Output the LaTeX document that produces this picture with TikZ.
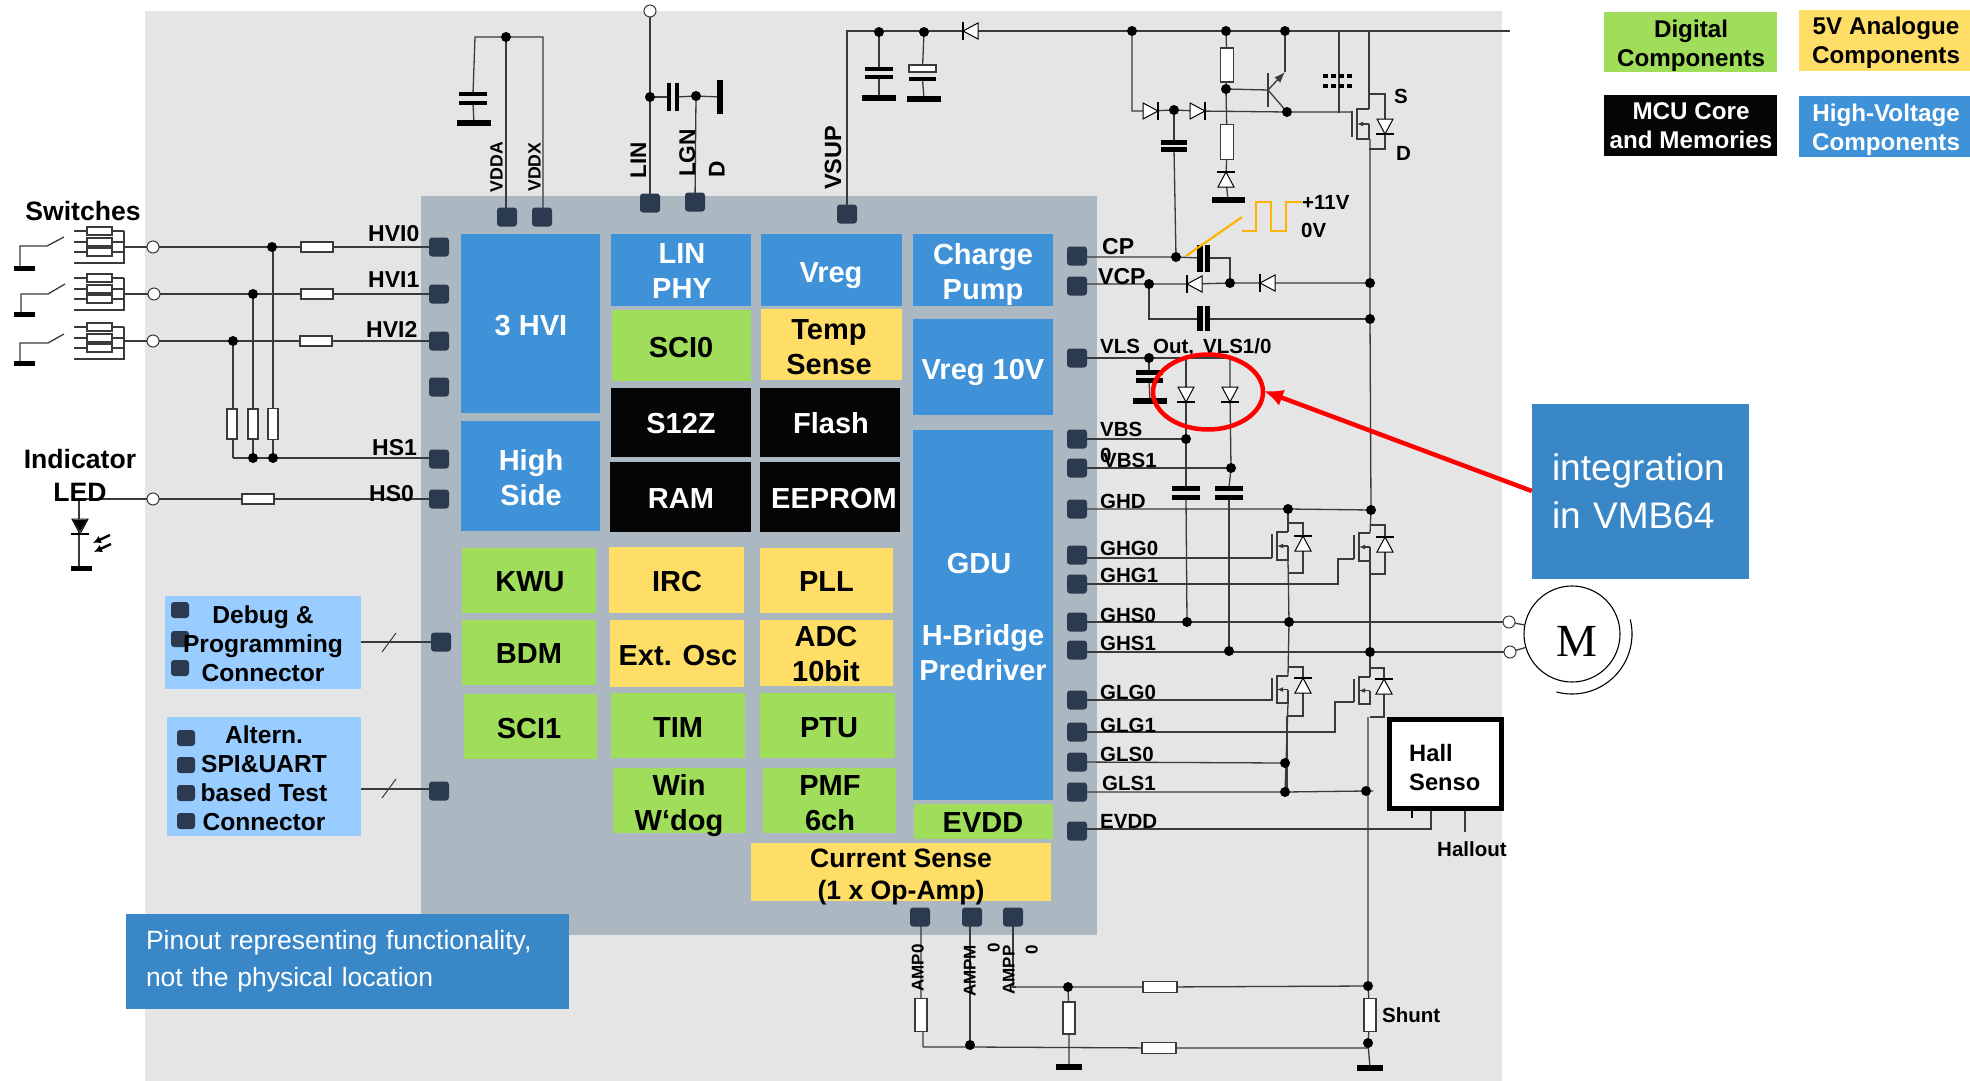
\documentclass[tikz,border=0pt]{standalone}
\usepackage{fontspec}
\setmainfont{Liberation Sans}
\newfontfamily\motorfont{Liberation Serif}
\usetikzlibrary{arrows.meta,shapes.geometric,calc}
\definecolor{cbg}{HTML}{E5E5E5}
\definecolor{cchip}{HTML}{ABB7C1}
\definecolor{cgreen}{HTML}{9FDD5B}
\definecolor{cyellow}{HTML}{FFDE68}
\definecolor{cblue}{HTML}{3F92D8}
\definecolor{cblack}{HTML}{050505}
\definecolor{cpin}{HTML}{2C3A4F}
\definecolor{clight}{HTML}{99CCFF}
\definecolor{ccall}{HTML}{3A87C8}
\definecolor{cwire}{HTML}{3A3A3A}
\definecolor{cwave}{HTML}{FFB300}
\pgfdeclarelayer{base}
\pgfdeclarelayer{wires}
\pgfsetlayers{base,wires,main}
\tikzset{
  pinbox/.style={fill=cpin,draw=none,rounded corners=3pt,minimum width=20pt,minimum height=19pt,inner sep=0pt},
  minipin/.style={fill=cpin,draw=none,rounded corners=3pt,minimum width=18pt,minimum height=16pt,inner sep=0pt},
  jdot/.style={circle,fill=black,draw=none,minimum size=10pt,inner sep=0pt},
  term/.style={circle,fill=white,draw=cwire,line width=1pt,minimum size=12pt,inner sep=0pt},
  resbox/.style={rectangle,fill=white,draw=cwire,line width=1.2pt,inner sep=0pt},
  plate/.style={rectangle,fill=black,draw=none,inner sep=0pt},
  wire/.style={draw=cwire,line width=1.3pt,line join=miter},
  blockbox/.style={rectangle,draw=none,inner sep=0pt},
  tb/.style={font=\bfseries\fontsize{29}{35}\selectfont,align=center,inner sep=0pt},
  one/.style={text height=21pt,text depth=0pt},
  pl/.style={font=\bfseries\fontsize{20.5}{24}\selectfont,inner sep=0pt,text height=15pt,text depth=0pt,anchor=west},
  ph/.style={font=\bfseries\fontsize{23}{27}\selectfont,inner sep=0pt,text height=16.5pt,text depth=0pt,anchor=west},
  rl/.style={font=\bfseries\fontsize{#1}{#1}\selectfont,inner sep=0pt,rotate=90,text height=.72em,text depth=0pt},
  leg/.style={font=\bfseries\fontsize{24.2}{29}\selectfont,align=center,inner sep=0pt},
  con/.style={font=\bfseries\fontsize{24.6}{29}\selectfont,align=center,inner sep=0pt},
  head/.style={font=\bfseries\fontsize{26.6}{32}\selectfont,align=center,inner sep=0pt},
}
\newcommand{\Blk}[6]{\node[blockbox,fill=#6,minimum width={(#4-#2)*1pt},minimum height={(#5-#3)*1pt}] (#1) at ({(#2+#4)/2},{(#3+#5)/2}) {};}
\newcommand{\Pn}[3]{\node[pinbox] (#1) at (#2,#3) {};}
\newcommand{\Jn}[3]{\node[jdot] (#1) at (#2,#3) {};}
\newcommand{\Tm}[3]{\node[term] (#1) at (#2,#3) {};}
\newcommand{\Rs}[5]{\node[resbox,minimum width=#4pt,minimum height=#5pt] (#1) at (#2,#3) {};}
\newcommand{\Pl}[5]{\node[plate,minimum width=#4pt,minimum height=#5pt] (#1) at (#2,#3) {};}
\newcommand{\Dio}[4]{\coordinate (#1) at (#2,#3);
  \begin{scope}[shift={(#2,#3)},rotate=#4]
    \draw[fill=white,draw=black,line width=1pt,line join=miter] (-7,-8) -- (-7,8) -- (8,0) -- cycle;
    \draw[black,line width=1.2pt] (8,-9) -- (8,9);
  \end{scope}}
\newcommand{\Chan}[5]{
  \draw[wire] (#5,{#2+2}) -- (#5,{#3-2});
  \draw[wire] (#1,#2) -- (#4,#2) -- (#4,#3) -- (#1,#3) -- (#1,{(#2+#3)/2});
  \draw[wire,-{Latex[length=6pt,width=5pt]}] (#1,{(#2+#3)/2}) -- (#4,{(#2+#3)/2});}
\newcommand{\Body}[7]{
  \draw[wire] (#2,#4) -- (#3,#4) -- (#3,#5) -- (#2,#5);
  \Dio{#1}{#3}{#6}{#7}}
\newcommand{\Rgrp}[5]{
  \Rs{#1a}{99.5}{#2}{25}{8}\Rs{#1b}{99.5}{#3}{25}{8}\Rs{#1c}{99.5}{#4}{25}{8}
  \coordinate (#1n) at (124,#2);\coordinate (#1s) at (124,#5);
  \begin{pgfonlayer}{wires}
    \draw[wire] (#1n) -- (#1s) -- (74,#5);
    \draw[wire] (74,#2) -- (#1n);\draw[wire] (74,#3) -- (124,#3);\draw[wire] (74,#4) -- (124,#4);
  \end{pgfonlayer}}
\begin{document}
\begin{tikzpicture}[x=1pt,y=-1pt]
\useasboundingbox (0,0) rectangle (1970,1081);
\begin{pgfonlayer}{base}
\Blk{bg}{145}{11}{1502}{1081}{cbg}
\Blk{chip}{421}{196}{1097}{935}{cchip}
\Blk{bHVI}{461}{234}{600}{413}{cblue}
\Blk{bHS}{461}{421}{600}{531}{cblue}
\Blk{bLIN}{611}{234}{751}{306}{cblue}
\Blk{bVreg}{761}{234}{902}{306}{cblue}
\Blk{bCP}{913}{234}{1053}{306}{cblue}
\Blk{bSCI0}{612}{310}{751}{381}{cgreen}
\Blk{bTemp}{761}{309}{902}{380}{cyellow}
\Blk{bV10}{913}{319}{1053}{415}{cblue}
\Blk{bS12}{611}{388}{751}{457}{cblack}
\Blk{bFlash}{760}{388}{900}{457}{cblack}
\Blk{bRAM}{610}{462}{751}{532}{cblack}
\Blk{bEE}{760}{462}{900}{532}{cblack}
\Blk{bGDU}{913}{430}{1053}{800}{cblue}
\Blk{bKWU}{462}{548}{596}{613}{cgreen}
\Blk{bIRC}{609}{547}{744}{613}{cyellow}
\Blk{bPLL}{760}{548}{893}{613}{cyellow}
\Blk{bBDM}{462}{620}{596}{685}{cgreen}
\Blk{bOsc}{610}{620}{744}{687}{cyellow}
\Blk{bADC}{760}{620}{893}{686}{cyellow}
\Blk{bSCI1}{464}{694}{597}{759}{cgreen}
\Blk{bTIM}{611}{693}{745}{758}{cgreen}
\Blk{bPTU}{760}{693}{895}{758}{cgreen}
\Blk{bWin}{613}{768}{746}{833}{cgreen}
\Blk{bPMF}{763}{768}{896}{833}{cgreen}
\Blk{bEVDD}{914}{804}{1053}{839}{cgreen}
\Blk{bCS}{751}{843}{1051}{901}{cyellow}
\Blk{bDbg}{165}{596}{361}{689}{clight}
\Blk{bAlt}{167}{717}{361}{836}{clight}
\Blk{lgD}{1604}{12}{1777}{72}{cgreen}
\Blk{lg5}{1799}{10}{1970}{71}{cyellow}
\Blk{lgM}{1604}{95}{1777}{156}{cblack}
\Blk{lgH}{1799}{96}{1970}{157}{cblue}
\end{pgfonlayer}
% pins
\Pn{pHVI0}{439}{247}\Pn{pHVI1}{439}{294}\Pn{pHVI2}{439}{341}\Pn{pNC}{439}{387}\Pn{pHS1}{439}{459}\Pn{pHS0}{439}{499}
\Pn{pDBG}{441}{642}\Pn{pTST}{439}{791}
\Pn{pVDDA}{507}{217}\Pn{pVDDX}{542}{217}\Pn{pLIN}{650}{203}\Pn{pLGND}{695}{202}\Pn{pVSUP}{847}{214}
\Pn{pAMP0}{920}{917}\Pn{pAMPM}{972}{917}\Pn{pAMPP}{1013}{917}
\Pn{pCP}{1077}{256}\Pn{pVCP}{1077}{286}\Pn{pVLS}{1077}{358}\Pn{pVBS}{1077}{439}\Pn{pVBSa}{1077}{468}
\Pn{pGHD}{1077}{509}\Pn{pGHGa}{1077}{555}\Pn{pGHGb}{1077}{584}\Pn{pGHSa}{1077}{622}\Pn{pGHSb}{1077}{650}
\Pn{pGLGa}{1077}{700}\Pn{pGLGb}{1077}{732}\Pn{pGLSa}{1077}{762}\Pn{pGLSb}{1077}{792}\Pn{pEVDD}{1077}{831}
\node[minipin] (q1) at (180,610) {};\node[minipin] (q2) at (180,639) {};\node[minipin] (q3) at (180,668) {};
\node[minipin] (q4) at (186,738) {};\node[minipin] (q5) at (186,765) {};\node[minipin] (q6) at (186,793) {};\node[minipin] (q7) at (186,821) {};
% left side
\Tm{t0}{153}{247}\Tm{t1}{154}{294}\Tm{t2}{153}{341}\Tm{t3}{153}{499}
\Jn{j0}{272}{247}\Jn{j1}{253}{294}\Jn{j2}{233}{341}\Jn{j3}{273}{458}\Jn{j4}{253}{458}
\coordinate (c5) at (233,458);
\Rs{r0}{317}{247}{32}{10}\Rs{r1}{317}{294}{32}{10}\Rs{r2}{316}{341}{32}{10}\Rs{r3}{258}{499}{32}{10}
\Rs{r4}{273}{424}{10}{31}\Rs{r5}{253}{424}{10}{30}\Rs{r6}{232}{424}{10}{30}
\Rgrp{ga}{231}{242}{252}{263}
\Rgrp{gb}{278}{289}{299}{310}
\Rgrp{gc}{327}{338}{348}{359}
\Pl{g1}{24.5}{268}{21}{5}\Pl{g2}{24.5}{314}{21}{5}\Pl{g3}{24.5}{363}{21}{5}\Pl{g4}{81}{568}{21}{5}
\coordinate (led) at (79,499);
\Dio{dled}{80}{526}{-90}
\begin{scope}[shift={(80,526)}]\fill[black] (-7,-6) -- (7,-6) -- (0,6) -- cycle;\end{scope}
\begin{pgfonlayer}{wires}
\draw[wire] (124,247) -- (t0.center) -- (j0.center) -- (r0.center) -- (pHVI0.center);
\draw[wire] (124,294) -- (t1.center) -- (j1.center) -- (r1.center) -- (pHVI1.center);
\draw[wire] (124,341) -- (t2.center) -- (j2.center) -- (r2.center) -- (pHVI2.center);
\draw[wire] (led) -- (t3.center) -- (r3.center) -- (pHS0.center);
\draw[wire] (j0.center) -- (r4.center |- j0.center) -- (j3.center);
\draw[wire] (j1.center) -- (j4.center);
\draw[wire] (j2.center) -- (c5);
\draw[wire] (c5) -- (j4.center) -- (j3.center) -- (438,458);
\draw[wire] (led) -- (g4.center -| led);
\draw[wire] (g1.center -| 20,0) -- (20,246) -- (47,246) -- (64,237);
\draw[wire] (g2.center -| 21,0) -- (21,294) -- (48,294) -- (65,284);
\draw[wire] (g3.center -| 20,0) -- (20,343) -- (48,343) -- (64,334);
\end{pgfonlayer}
\draw[black,line width=2.4pt,-{Latex[length=8pt,width=8pt]}] (111,544) -- (94,552);
\draw[black,line width=2.4pt,-{Latex[length=8pt,width=8pt]}] (110,535) -- (93,543);
% top-left
\Jn{jA}{506}{37}\Pl{capA1}{473}{94}{28}{4}\Pl{capA2}{473}{103}{28}{4}\Pl{gA}{474}{123}{34}{6}
\Tm{tL}{650}{11}\Jn{jL}{650}{97}\Jn{jG}{696}{96}
\Pl{capL1}{668.5}{97}{4}{28}\Pl{capL2}{676.5}{97}{4}{28}\Pl{gL}{720}{97}{6}{34}
\Jn{jV1}{879}{32}\Jn{jV2}{924}{32}
\Pl{capV1}{879}{69}{28}{4.5}\Pl{capV2}{879}{77}{28}{4.5}\Pl{gV1}{879}{98}{34}{6}
\Rs{capV3}{922.5}{68.5}{27}{7}\Pl{capV4}{922.5}{79}{27}{4.5}\Pl{gV2}{924}{99}{34}{6}
\Dio{dV}{971}{31}{180}
\Jn{jT1}{1132}{31}\Jn{jT2}{1226}{31}\Jn{jT3}{1285}{31}
\coordinate (railE) at (1510,31);\coordinate (vsupc) at (847,31);
\begin{pgfonlayer}{wires}
\draw[wire] (pVDDA.center -| jA) -- (jA.center);
\draw[wire] (capA1.center) -- (475,37) -- (543,37) -- (pVDDX.center -| 543,0);
\draw[wire] (capA2.center) -- (gA.center);
\draw[wire] (tL.center) -- (pLIN.center);
\draw[wire] (jL.center) -- (capL1.center);
\draw[wire] (capL2.center) -- (jG.center) -- (gL.center);
\draw[wire] (jG.center) -- (pLGND.center);
\draw[wire] (pVSUP.center) -- (vsupc) -- (dV) -- (railE);
\draw[wire] (jV1.center) -- (capV1.center);\draw[wire] (capV2.center) -- (gV1.center);
\draw[wire] (jV2.center) -- (capV3.center);\draw[wire] (capV4.center) -- (gV2.center);
\end{pgfonlayer}
% upper right
\Dio{d1}{1150}{111}{0}\Dio{d2}{1197}{111}{0}
\Jn{jC}{1174}{110}\Pl{capC1}{1174}{142}{26}{5}\Pl{capC2}{1174}{149}{26}{5}\Jn{jCP}{1176}{257}
\Rs{rT1}{1227}{65}{13}{34}\Jn{jB}{1226}{89}\Rs{rT2}{1227}{142}{13}{35}
\Dio{dZ}{1226}{180}{90}\Pl{gZ}{1228}{200}{33}{6}
\Jn{jQ}{1287}{112}
\coordinate (base) at (1268,90);\coordinate (emit) at (1285,72);\coordinate (gateq) at (1352,112);
\begin{pgfonlayer}{wires}
\draw[wire] (jT1.center) -- (1132,111) -- (d1) -- (jC.center) -- (d2) -- (jQ.center) -- (gateq);
\draw[wire,line width=1.6pt] (jC.center) -- (capC1.center);
\draw[wire] (capC2.center) -- (jCP.center);
\draw[wire] (jT2.center) -- (rT1.center) -- (jB.center) -- (rT2.center) -- (dZ) -- (gZ.center);
\draw[wire] (jB.center) -- (base);
\draw[wire] (1268,73) -- (1268,107);
\draw[wire,-{Latex[length=11pt,width=8pt]}] (base) -- (emit);
\draw[wire] (emit) -- (jT3.center);
\draw[wire] (base) -- (jQ.center);
\draw[wire] (1339,31) -- (1339,113);
\draw[wire] (1369,31) -- (1369,109);
\end{pgfonlayer}
\foreach \yy in {76,86}{\foreach \xx in {1325.5,1333.5,1341.5,1349}{\fill[black] (\xx-2.5,\yy-2) rectangle (\xx+2.5,\yy+2);}}
\Chan{1369}{109}{139}{1357}{1352}
\Body{dM}{1369}{1385}{94}{149}{126}{-90}
% charge pump
\Jn{jVC}{1149}{284}\Jn{jM}{1230}{283}\Jn{jR1}{1370}{283}\Jn{jR2}{1370}{319}
\Pl{capP1}{1200}{258}{5.5}{27}\Pl{capP2}{1207.5}{258}{5.5}{27}
\Pl{capQ1}{1200}{318}{5.5}{25}\Pl{capQ2}{1207.5}{318}{5.5}{25}
\Dio{d3}{1195}{284}{180}\Dio{d4}{1268}{283}{180}
\begin{pgfonlayer}{wires}
\draw[wire] (1077,257) -- (jCP.center) -- (capP1.center);
\draw[wire] (capP2.center) -- (jM.center |- capP2.center) -- (jM.center);
\draw[wire] (1077,284) -- (jVC.center) -- (d3) -- (jM.center) -- (d4) -- (jR1.center);
\draw[wire] (jVC.center) |- (capQ1.center |- jR2.center) -- (capQ1.center);
\draw[wire] (capQ2.center |- jR2.center) -- (jR2.center);
\end{pgfonlayer}
% bootstrap
\Jn{jVL}{1149}{358}\Pl{capL3}{1149}{372}{27}{5}\Pl{capL4}{1149}{380}{27}{5}\Pl{gL2}{1150}{401}{34}{6}
\Dio{d5}{1186}{394}{-90}\Dio{d6}{1230}{394}{-90}
\Jn{jBS}{1186}{439}\Jn{jBSa}{1231}{468}
\Pl{capB1}{1186}{488}{28}{5}\Pl{capB2}{1186}{497}{28}{5}\Pl{capB3}{1229}{488}{28}{5}\Pl{capB4}{1229}{497}{28}{5}
\Jn{jHD0}{1288}{509}\Jn{jHD1}{1371}{510}
\Jn{jS0a}{1187}{622}\Jn{jS0b}{1289}{622}\Jn{jS1a}{1229}{651}\Jn{jS1b}{1370}{652}
\Jn{jLa}{1285}{763}\Jn{jLb}{1285}{792}\Jn{jLc}{1366}{791}
\Tm{tM0}{1509}{622}\Tm{tM1}{1510}{652}
\node[circle,draw=black,line width=1.1pt,fill=white,minimum size=96pt,inner sep=0pt] (motor) at (1572,634) {};
\node[font=\motorfont\fontsize{46}{46}\selectfont,inner sep=0pt,text height=31pt,text depth=0pt] (mlabel) at (1577,641) {M};
\draw[black,line width=1.1pt] ([shift={(14:60pt)}]motor.center) arc[start angle=14,end angle=-105,radius=60pt];
\begin{pgfonlayer}{wires}
\draw[wire] (pVLS.center) -- (jVL.center) -- (1230,358);
\draw[wire] (jVL.center) -- (capL3.center);\draw[wire] (capL4.center) -- (gL2.center);
\draw[wire] (1186,358) -- (d5) -- (jBS.center) -- (capB1.center);
\draw[wire] (capB2.center) -- (jS0a.center);
\draw[wire] (1230,358) -- (d6) -- (jBSa.center) -- (capB3.center);
\draw[wire] (capB4.center) -- (jS1a.center);
\draw[wire] (pVBS.center) -- (jBS.center);
\draw[wire] (pVBSa.center) -- (jBSa.center);
\draw[wire] (pGHD.center) -- (jHD0.center) -- (jHD1.center);
\draw[wire] (pGHSa.center) -- (tM0.center);
\draw[wire] (1077,652) -- (tM1.center);
\draw[wire] (tM0.center) -- (motor);
\draw[wire] (tM1.center) -- (motor);
\draw[wire] (1370,139) -- (jR1.center) -- (jR2.center) -- (jHD1.center) -- (1370,533);
\draw[wire] (jHD0.center) -- (1288,532);
\draw[wire] (1288,560) -- (jS0b.center) -- (1288,676);
\draw[wire] (1370,561) -- (jS1b.center) -- (1370,677);
\draw[wire] (1288,703) -- (jLa.center |- jLb.center) ;
\draw[wire] (1077,558) -- (1272,558);
\draw[wire] (pGHGb.center) -- (1338,584) -- (1338,559) -- (1354,559);
\draw[wire] (pGLGa.center) -- (1272,700);
\draw[wire] (pGLGb.center) -- (1335,732) -- (1335,702) -- (1354,702);
\draw[wire] (pGLSa.center) -- (jLa.center);
\draw[wire] (pGLSb.center) -- (jLb.center) -- (jLc.center) -- (1373,791);
\draw[wire] (1287,716) -- (1287,792);
\end{pgfonlayer}
\Chan{1288}{532}{560}{1277}{1272}\Body{dH0}{1288}{1303}{523}{573}{544}{90}
\Chan{1370}{533}{561}{1359}{1354}\Body{dH1}{1370}{1385}{525}{574}{545}{90}
\Chan{1288}{676}{703}{1277}{1272}\Body{dL0}{1288}{1303}{667}{716}{686}{90}
\Chan{1370}{677}{704}{1359}{1354}\Body{dL1}{1370}{1384}{668}{717}{687}{90}
% hall and shunt
\node[rectangle,draw=black,line width=5pt,fill=white,minimum width=112pt,minimum height=89pt,inner sep=0pt] (hall) at (1445.5,764) {};
\coordinate (hs1) at (1412,818);\coordinate (hs2) at (1431,829);\coordinate (hs3) at (1465,832);
\Jn{jSh}{1368}{986}\Rs{rSh}{1370}{1015}{12}{33}\Jn{jSg}{1368}{1043}\Pl{gSh}{1370}{1068}{26}{5.5}
\Jn{jP}{1068}{987}\Rs{rP}{1069}{1018}{12}{32}\Pl{gP}{1069}{1067}{26}{5.5}
\Rs{rQ}{1160}{987}{34}{11}\Rs{rU}{1159}{1048}{34}{11}
\Rs{rAmp}{921}{1015}{12}{33}\Jn{jAM}{970}{1045}
\coordinate (a0) at (923,1047);\coordinate (ap) at (1016,987);
\begin{pgfonlayer}{wires}
\draw[wire] (1368,717) -- (jSh.center) -- (rSh.center) -- (jSg.center) -- (gSh.center);
\draw[wire] (1077,829) -- (hs2) -- (hs2 |- hall.south);
\draw[black,line width=2pt] (hs1 |- hall.south) -- (hs1);
\draw[wire] (hs3 |- hall.south) -- (hs3);
\draw[wire] (ap) -- (jP.center) -- (rQ.center) -- (jSh.center);
\draw[wire] (jP.center) -- (rP.center) -- (gP.center);
\draw[wire] (a0) -- (jAM.center |- a0) -- (rU.center) -- (jSg.center |- rU.center);
\draw[wire] (pAMP0.center -| rAmp.center) -- (rAmp.center) -- (a0 |- rAmp.south) -- (a0);
\draw[wire] (pAMPM.center -| jAM.center) -- (jAM.center);
\draw[wire] (pAMPP.center) -- (pAMPP.center |- ap) -- (ap);
\draw[wire] (bDbg.east |- pDBG.center) -- (pDBG.center);
\draw[wire] (361,789) -- (439,789);
\end{pgfonlayer}
\draw[wire,line width=1pt] (382,652) -- (396,633);
\draw[wire,line width=1pt] (382,798) -- (396,779);
% orange
\draw[cwave,line width=2.2pt] (1186,256) -- (1242,217);
\draw[cwave,line width=2.2pt] (1242,231) -- (1256,231) -- (1256,202) -- (1271,202) -- (1271,231) -- (1286,231) -- (1286,202) -- (1302,202);
% block text
\node[tb,text=white,one] (x1) at (531,325) {3 HVI};
\node[tb,text=white] (x2) at (531,478) {High\\Side};
\node[tb,text=white] (x3) at (682,271.5) {LIN\\PHY};
\node[tb,text=white,one] (x4) at (831,272) {Vreg};
\node[tb,text=white] (x5) at (983,274.5) {Charge\\Pump};
\node[tb,one] (x6) at (681,347) {SCI0};
\node[tb] (x7) at (829,347) {Temp\\Sense};
\node[tb,text=white,one] (x8) at (983,369) {Vreg 10V};
\node[tb,text=white,one] (x9) at (681,423) {S12Z};
\node[tb,text=white,one] (x10) at (831,423) {Flash};
\node[tb,text=white,one] (x11) at (681,498) {RAM};
\node[tb,text=white,one] (x12) at (834,498) {EEPROM};
\node[tb,one] (x13) at (530,581) {KWU};
\node[tb,one] (x14) at (677,581) {IRC};
\node[tb,one] (x15) at (826.5,581) {PLL};
\node[tb,one] (x16) at (529,653) {BDM};
\node[tb,one] (x17) at (678,655) {Ext. Osc};
\node[tb] (x18) at (826,654) {ADC\\10bit};
\node[tb,one] (x19) at (529,728) {SCI1};
\node[tb,one] (x20) at (678,727) {TIM};
\node[tb,one] (x21) at (829,727) {PTU};
\node[tb] (x22) at (679,805.5) {Win\\W‘dog};
\node[tb] (x23) at (830,803) {PMF\\6ch};
\node[tb,text=white,one] (x24) at (979,563) {GDU};
\node[tb,text=white] (x25) at (983,653) {H-Bridge\\Predriver};
\node[tb,one] (x26) at (983,822) {EVDD};
\node[head] (x27) at (901,877) {Current Sense\\(1 x Op-Amp)};
% legend
\node[leg] (l1) at (1691,45.5) {Digital\\Components};
\node[leg] (l2) at (1886,42.5) {5V Analogue\\Components};
\node[leg,text=white] (l3) at (1691,126) {MCU Core\\and Memories};
\node[leg,text=white] (l4) at (1886,130) {High-Voltage\\Components};
% connector boxes
\node[con] (c1) at (263,643.5) {Debug \&\\Programming\\Connector};
\node[con] (c2) at (264,778) {Altern.\\SPI\&UART\\based Test\\Connector};
% titles
\node[font=\bfseries\fontsize{26.6}{33}\selectfont,inner sep=0pt] (s1) at (83,211) {Switches};
\node[font=\bfseries\fontsize{26.6}{33}\selectfont,inner sep=0pt,align=center] (s2) at (80,475) {Indicator\\LED};
% pin labels left
\node[ph] at (368,233) {HVI0};
\node[ph] at (368,279) {HVI1};
\node[ph] at (366,329) {HVI2};
\node[ph] at (372,447) {HS1};
\node[ph] at (369,493) {HS0};
% pin labels right
\node[ph] at (1102,246) {CP};
\node[ph] at (1098,276) {VCP};
\node[pl] at (1100,346) {VLS\hspace{13pt}Out,\hspace{9pt}VLS1/0};
\node[pl] at (1100,429) {VBS};
\node[pl] at (1100,455) {0};
\node[pl] at (1103,460) {VBS1};
\node[pl] at (1100,501) {GHD};
\node[pl] at (1100,548) {GHG0};
\node[pl] at (1100,575) {GHG1};
\node[pl] at (1100,615) {GHS0};
\node[pl] at (1100,643) {GHS1};
\node[pl] at (1100,692) {GLG0};
\node[pl] at (1100,725) {GLG1};
\node[pl] at (1100,754) {GLS0};
\node[pl] at (1102,783) {GLS1};
\node[pl] at (1100,821) {EVDD};
\node[pl] at (1302,202) {+11V};
\node[pl] at (1301,230) {0V};
\node[pl] at (1394,96) {S};
\node[pl] at (1396,153) {D};
\node[font=\bfseries\fontsize{23.7}{29}\selectfont,inner sep=0pt,align=left,anchor=west] (hl) at (1409,768) {Hall\\Senso};
\node[pl] at (1437,849) {Hallout};
\node[font=\bfseries\fontsize{20.5}{24}\selectfont,inner sep=0pt,text height=15pt,text depth=0pt,anchor=west] at (1382,1015) {Shunt};
% rotated labels
\node[rl=17.7] at (499,167) {VDDA};
\node[rl=17.7] at (537,167) {VDDX};
\node[rl=22.5] at (642.5,160) {LIN};
\node[rl=22.7] at (691.5,153) {LGN};
\node[rl=22.7] at (721,169) {D};
\node[rl=23.5] at (837.5,158) {VSUP};
\node[rl=17] at (920,968) {AMP0};
\node[rl=17] at (972,971) {AMPM};
\node[rl=17] at (996,948) {0};
\node[rl=17] at (1011,970) {AMPP};
\node[rl=17] at (1034,950) {0};
% callouts
\node[blockbox,fill=ccall,minimum width=443pt,minimum height=95pt,text=white,align=left,font=\fontsize{26.5}{37}\selectfont,text width=403pt] (note) at (347.5,961.5) {Pinout representing functionality,\\not the physical location};
\node[blockbox,fill=ccall,minimum width=217pt,minimum height=175pt,text=white,align=left,font=\fontsize{37}{43.5}\selectfont,text width=177pt] (vmb) at (1640.5,491.5) {\vspace*{5pt}integration\\in VMB64};
\node[ellipse,draw=red,line width=4.5pt,minimum width=110pt,minimum height=75pt,inner sep=0pt] (ring) at (1208,392) {};
\coordinate (tip) at (1264,391);
\draw[red,line width=4.5pt,-{Latex[length=19pt,width=17pt]}] (vmb.west |- 0,491) -- (tip);
\end{tikzpicture}
\end{document}
